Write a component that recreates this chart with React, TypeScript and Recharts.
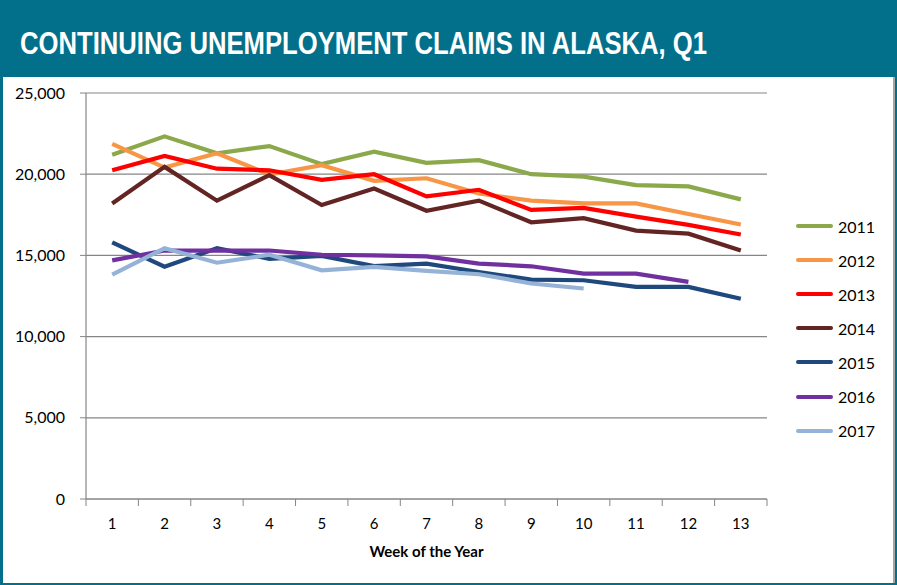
import { LineChart, Line, XAxis, YAxis, CartesianGrid } from 'recharts';

const weeks = [1, 2, 3, 4, 5, 6, 7, 8, 9, 10, 11, 12, 13];
const years = ['2011', '2012', '2013', '2014', '2015', '2016', '2017'];
const colors = ['#8BA84B', '#F79646', '#FF0000', '#632523', '#1F497D', '#7030A0', '#95B3D7'];

const y2011 = [21200, 22330, 21290, 21730, 20620, 21390, 20700, 20860, 20000, 19850, 19330, 19250, 18450];
const y2012 = [21870, 20410, 21290, 19980, 20550, 19590, 19750, 18810, 18370, 18200, 18200, 17550, 16900];
const y2013 = [20240, 21120, 20340, 20240, 19650, 20000, 18630, 19040, 17800, 17920, 17390, 16880, 16290];
const y2014 = [18200, 20450, 18370, 19940, 18100, 19120, 17750, 18370, 17040, 17290, 16530, 16340, 15300];
const y2015 = [15800, 14300, 15440, 14790, 14970, 14340, 14490, 13980, 13510, 13470, 13060, 13060, 12330];
const y2016 = [14690, 15300, 15300, 15300, 15040, 15000, 14940, 14490, 14330, 13880, 13880, 13370, null];
const y2017 = [13820, 15440, 14550, 15040, 14080, 14290, 14050, 13840, 13270, 12960, null, null, null];

const yTicks = [0, 5000, 10000, 15000, 20000, 25000];

const seriesValues = [y2011, y2012, y2013, y2014, y2015, y2016, y2017];

const data = weeks.map((w, i) => {
  const row: Record<string, number | null> = { week: w };
  years.forEach((yr, k) => {
    row[yr] = seriesValues[k][i];
  });
  return row;
});

// tick positions: band edges (for tick marks) plus week centres (for labels)
const xTicks = weeks.flatMap((w) => [w - 0.5, w]).concat(weeks[weeks.length - 1] + 0.5);

const TEAL = '#03708B';
const GRID = '#868686';
const FONT = 'Lato, "Open Sans", sans-serif';

function WeekTick(props: any) {
  const { x, y, payload } = props;
  if (Number.isInteger(payload.value)) {
    return (
      <text x={x} y={y + 23} textAnchor="middle" fontFamily={FONT} fontSize={15} fill="#000">
        {payload.value}
      </text>
    );
  }
  return <line x1={x} x2={x} y1={y - 7} y2={y} stroke={GRID} strokeWidth={1} />;
}

export default function App() {
  return (
    <div
      style={{
        position: 'absolute',
        left: 0,
        top: 0,
        width: 897,
        height: 585,
        background: '#fff',
        overflow: 'hidden',
      }}
    >
      {/* title banner */}
      <div style={{ position: 'absolute', left: 0, top: 0, width: 897, height: 77, background: TEAL }}>
        <svg width={897} height={77}>
          <text
            x={20}
            y={54}
            textLength={687}
            lengthAdjust="spacingAndGlyphs"
            fill="#fff"
            fontFamily='"Liberation Sans Narrow", "Liberation Sans", sans-serif'
            fontWeight="bold"
            fontSize={32}
          >
            CONTINUING UNEMPLOYMENT CLAIMS IN ALASKA, Q1
          </text>
        </svg>
      </div>

      {/* frame */}
      <div style={{ position: 'absolute', left: 0, top: 77, width: 3, height: 508, background: TEAL }} />
      <div style={{ position: 'absolute', left: 0, top: 583, width: 897, height: 2, background: TEAL }} />
      <div style={{ position: 'absolute', left: 893, top: 77, width: 2, height: 506, background: '#A6A6A6' }} />
      <div style={{ position: 'absolute', left: 895, top: 0, width: 2, height: 585, background: TEAL }} />

      <div style={{ position: 'absolute', left: 0, top: 77 }}>
        <LineChart width={893} height={506} data={data} margin={{ top: 16, right: 126, bottom: 24, left: 16 }}>
          <CartesianGrid vertical={false} stroke={GRID} strokeWidth={1.2} />
          <XAxis
            dataKey="week"
            type="number"
            domain={[0.5, 13.5]}
            ticks={xTicks}
            interval={0}
            height={60}
            tickSize={7}
            tickMargin={0}
            tickLine={false}
            tick={<WeekTick />}
            axisLine={{ stroke: GRID, strokeWidth: 1.2 }}
            label={{
              value: 'Week of the Year',
              position: 'insideBottom',
              offset: 2,
              fontFamily: FONT,
              fontWeight: 'bold',
              fontSize: 15,
              fill: '#000',
            }}
          />
          <YAxis
            domain={[0, 25000]}
            ticks={yTicks}
            width={70}
            tickSize={6}
            tickMargin={15}
            tickFormatter={(v: number) => v.toLocaleString('en-US')}
            tick={{ fontFamily: FONT, fontSize: 16, fill: '#000' }}
            tickLine={{ stroke: GRID }}
            axisLine={{ stroke: GRID, strokeWidth: 1.2 }}
          />
          {years.map((yr, k) => (
            <Line
              key={yr}
              type="linear"
              dataKey={yr}
              stroke={colors[k]}
              strokeWidth={4.2}
              dot={false}
              activeDot={false}
              isAnimationActive={false}
            />
          ))}
        </LineChart>
      </div>

      {/* legend */}
      <div style={{ position: 'absolute', left: 796, top: 209 }}>
        {years.map((yr, k) => (
          <div key={yr} style={{ display: 'flex', alignItems: 'center', height: 34.1 }}>
            <div style={{ width: 37, height: 4, borderRadius: 2, background: colors[k] }} />
            <span style={{ marginLeft: 5, fontFamily: FONT, fontSize: 16, color: '#000' }}>{yr}</span>
          </div>
        ))}
      </div>
    </div>
  );
}
